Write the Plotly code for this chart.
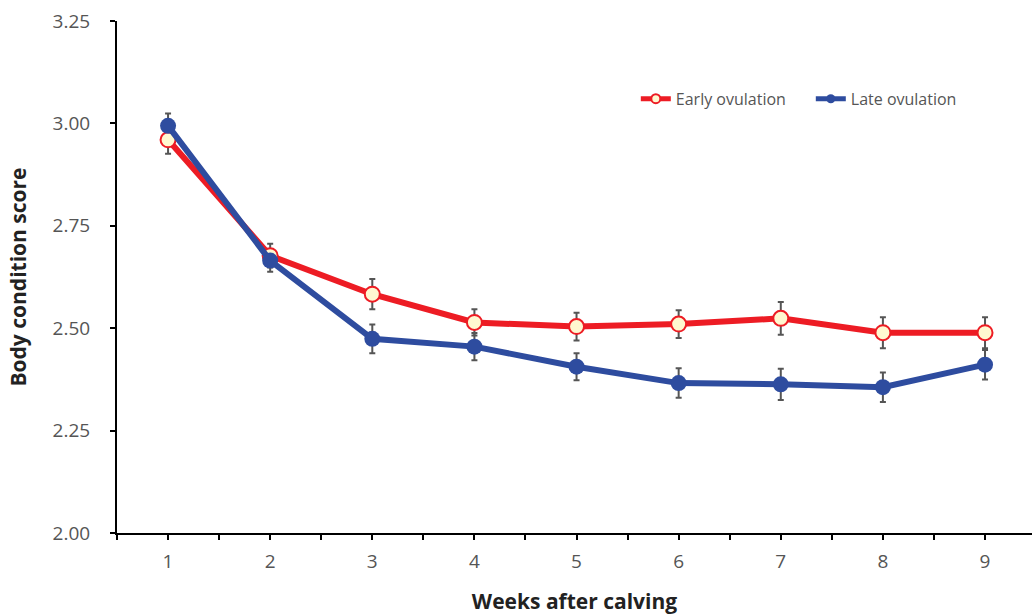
import plotly.graph_objects as go

weeks = [1, 2, 3, 4, 5, 6, 7, 8, 9]
early = [2.960, 2.677, 2.583, 2.514, 2.504, 2.510, 2.524, 2.489, 2.489]
early_se = [0.034, 0.029, 0.037, 0.032, 0.034, 0.034, 0.040, 0.038, 0.038]
late = [2.994, 2.665, 2.474, 2.455, 2.406, 2.366, 2.363, 2.356, 2.411]
late_se = [0.030, 0.027, 0.035, 0.033, 0.033, 0.036, 0.038, 0.036, 0.036]

y_ticks = [2.00, 2.25, 2.50, 2.75, 3.00, 3.25]
x_tickvals = [0.5 + 0.5 * i for i in range(19)]
x_ticktext = [str(int(v)) if v == int(v) else "" for v in x_tickvals]

RED = "#ED1C24"
BLUE = "#2E4C9F"
ERR = "#555555"
FONT = "Open Sans"

fig = go.Figure()

# error bars first (below lines)
for vals, se in [(early, early_se), (late, late_se)]:
    fig.add_trace(go.Scatter(
        x=weeks, y=vals, mode="markers",
        marker=dict(size=1, opacity=0),
        error_y=dict(type="data", array=se, visible=True, color=ERR, thickness=2, width=3),
        showlegend=False, hoverinfo="skip"))

fig.add_trace(go.Scatter(
    x=weeks, y=early, mode="lines+markers", name="Early ovulation",
    line=dict(color=RED, width=6), showlegend=False,
    marker=dict(size=15, color="#FFF8D0", line=dict(color=RED, width=2))))
fig.add_trace(go.Scatter(
    x=weeks, y=late, mode="lines+markers", name="Late ovulation",
    line=dict(color=BLUE, width=6), showlegend=False,
    marker=dict(size=16, color=BLUE, line=dict(color=BLUE, width=0))))

# legend entries with smaller symbols
fig.add_trace(go.Scatter(
    x=[None], y=[None], mode="lines+markers", name="Early ovulation",
    line=dict(color=RED, width=5),
    marker=dict(size=9, color="#FFF8D0", line=dict(color=RED, width=2))))
fig.add_trace(go.Scatter(
    x=[None], y=[None], mode="lines+markers", name="Late ovulation",
    line=dict(color=BLUE, width=5),
    marker=dict(size=9, color=BLUE, line=dict(color=BLUE, width=0))))

fig.update_layout(
    width=1032, height=615,
    margin=dict(l=117, r=0, t=21, b=82),
    paper_bgcolor="white", plot_bgcolor="white",
    font=dict(family=FONT, color="#555555"),
    legend=dict(orientation="h", x=0.567, y=0.848, xanchor="left", yanchor="middle",
                font=dict(size=16, color="#555555"), entrywidth=130, entrywidthmode="pixels",
                bgcolor="rgba(0,0,0,0)", tracegroupgap=0),
    xaxis=dict(range=[0.5, 9.46], tickmode="array", tickvals=x_tickvals, ticktext=x_ticktext,
               showgrid=False, zeroline=False, showline=True, linecolor="black", linewidth=2,
               ticks="outside", ticklen=5, tickwidth=2, tickcolor="black", automargin=False,
               tickfont=dict(size=19, color="#555555"), ticklabelstandoff=5,
               title=dict(text="<b>Weeks after calving</b>", font=dict(size=21, color="#222222"), standoff=23)),
    yaxis=dict(range=[2.0, 3.25], tickmode="array", tickvals=y_ticks,
               ticktext=[f"{v:.2f}" for v in y_ticks],
               showgrid=False, zeroline=False, showline=True, linecolor="black", linewidth=2,
               ticks="outside", ticklen=5, tickwidth=2, tickcolor="black", automargin=False,
               tickfont=dict(size=19, color="#555555"), ticklabelstandoff=16,
               title=dict(text="<b>Body condition score</b>", font=dict(size=21, color="#222222"), standoff=20)),
)

fig.write_html("out.html", config={"displayModeBar": False},
               post_script="document.body.style.margin='0';document.body.style.overflow='hidden';")
